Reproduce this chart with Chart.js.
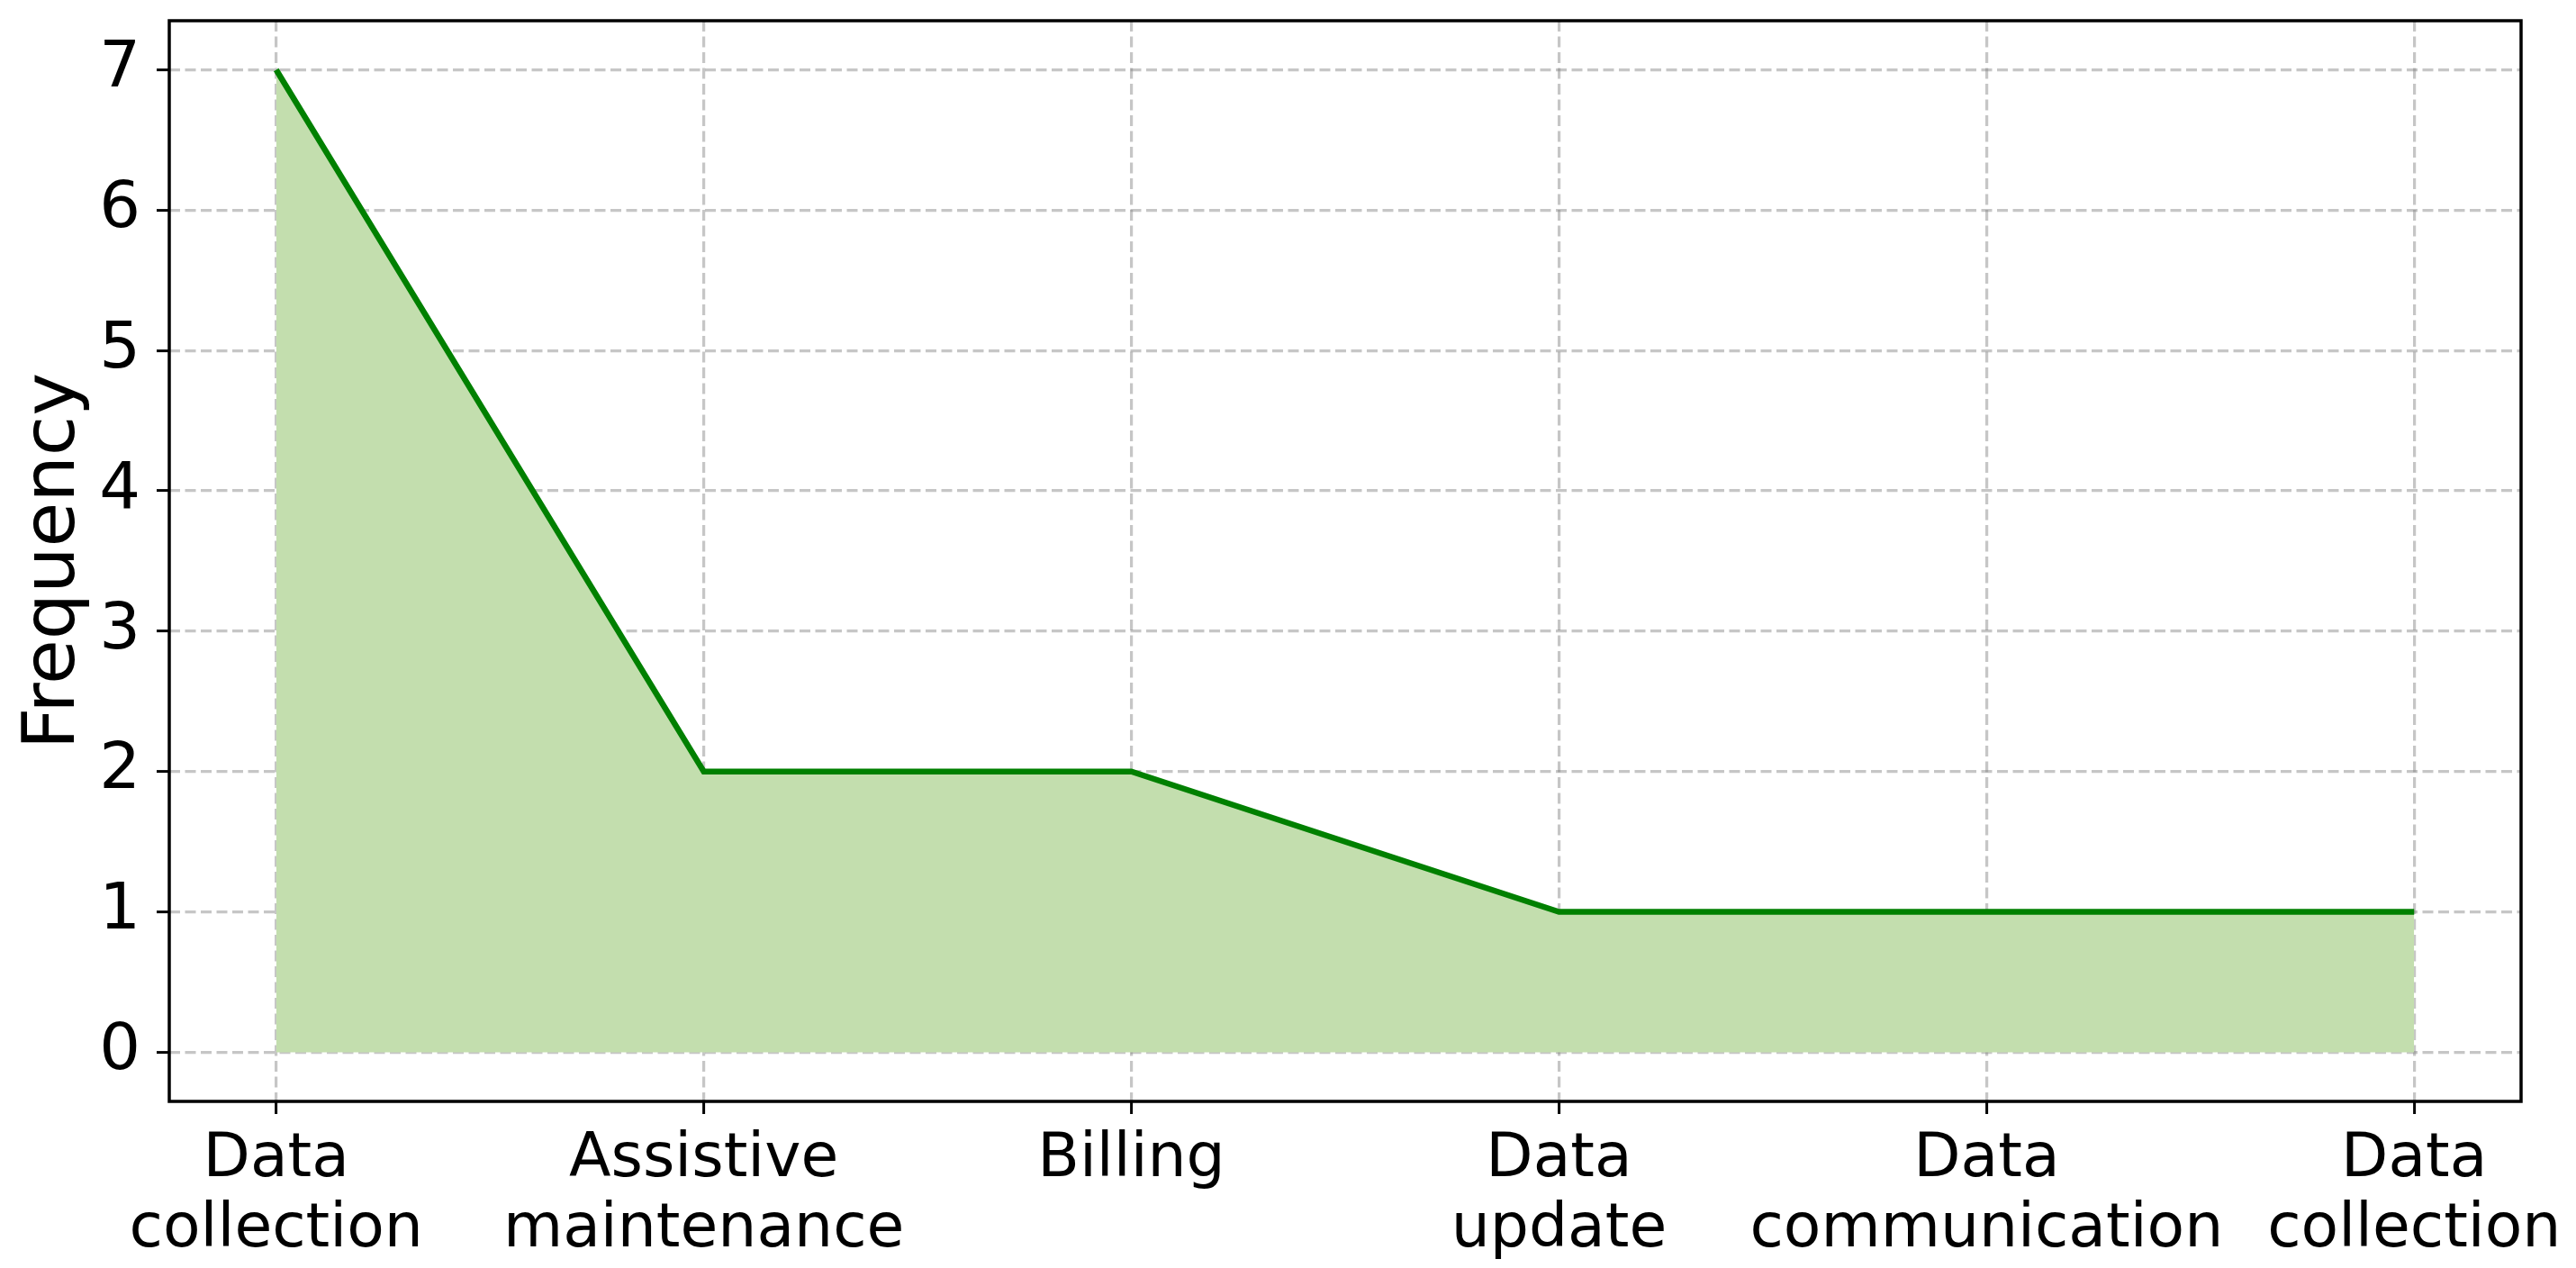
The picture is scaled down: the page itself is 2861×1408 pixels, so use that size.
<!DOCTYPE html>
<html>
<head>
<meta charset="utf-8">
<script src="https://cdn.jsdelivr.net/npm/chart.js@4/dist/chart.umd.min.js"></script>
<style>
  html, body { margin: 0; padding: 0; background: #fff; }
  #wrap { width: 2861px; height: 1408px; }
</style>
</head>
<body>
<div id="wrap"><canvas id="freqChart" width="2861" height="1408"></canvas></div>
<script>
// --- Data ---
const categories = [
    ['Data', 'collection'],
    ['Assistive', 'maintenance'],
    ['Billing'],
    ['Data', 'update'],
    ['Data', 'communication'],
    ['Data', 'collection']
];
const frequencies = [7, 2, 2, 1, 1, 1];
const yTicks = [0, 1, 2, 3, 4, 5, 6, 7];

// --- Helpers ---
const gridColor = 'rgba(128,128,128,0.45)';
const tickFont = { family: 'DejaVu Sans', size: 68, lineHeight: 1.15 };
const gridOpts = {
    color: gridColor,
    lineWidth: 3.2,
    tickLength: 14,
    tickColor: '#000',
    tickWidth: 3,
    tickBorderDash: []
};

// frame round the plot area
const framePlugin = {
    id: 'frame',
    afterDraw(chart) {
        const { ctx, chartArea: a } = chart;
        ctx.save();
        ctx.strokeStyle = '#000';
        ctx.lineWidth = 3.5;
        ctx.strokeRect(a.left, a.top, a.right - a.left, a.bottom - a.top);
        ctx.restore();
    }
};

const ctx = document.getElementById('freqChart').getContext('2d');
new Chart(ctx, {
    type: 'line',
    data: {
        datasets: [{
            data: frequencies.map((v, i) => ({ x: i, y: v })),
            borderColor: '#008000',
            borderWidth: 6.5,
            backgroundColor: 'rgb(195,222,174)',
            fill: 'origin',
            pointRadius: 0,
            tension: 0
        }]
    },
    options: {
        responsive: false,
        animation: false,
        events: [],
        layout: { padding: { top: 23, right: 61, left: 0, bottom: 0 } },
        plugins: { legend: { display: false }, tooltip: { enabled: false } },
        scales: {
            x: {
                type: 'linear',
                min: -0.25,
                max: categories.length - 0.75,
                z: 1,
                afterBuildTicks: (s) => { s.ticks = categories.map((c, i) => ({ value: i })); },
                afterFit: (s) => { s.height = 185; s.paddingLeft = 0; s.paddingRight = 0; },
                grid: gridOpts,
                border: { display: false, dash: [12, 5.5] },
                ticks: {
                    color: '#000',
                    font: tickFont,
                    padding: 12,
                    maxRotation: 0,
                    autoSkip: false,
                    callback: (v) => categories[v]
                }
            },
            y: {
                min: -0.35,
                max: 7.35,
                z: 1,
                afterBuildTicks: (s) => { s.ticks = yTicks.map(v => ({ value: v })); },
                afterFit: (s) => { s.width = 188; s.paddingTop = 0; s.paddingBottom = 0; },
                grid: gridOpts,
                border: { display: false, dash: [12, 5.5] },
                ticks: {
                    color: '#000',
                    font: { family: 'DejaVu Sans', size: 72 },
                    padding: 18
                },
                title: {
                    display: true,
                    text: 'Frequency',
                    color: '#000',
                    font: { family: 'DejaVu Sans', size: 81 },
                    padding: { top: 12, bottom: 0 }
                }
            }
        }
    },
    plugins: [framePlugin]
});
</script>
</body>
</html>
